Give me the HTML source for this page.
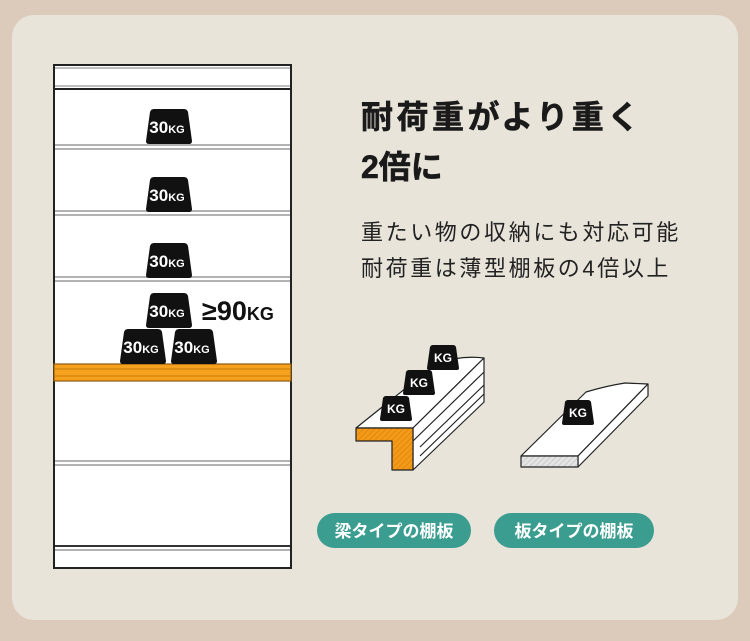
<!DOCTYPE html>
<html><head><meta charset="utf-8"><style>
html,body{margin:0;padding:0;background:#dccbbb;}
svg{display:block}
text{font-family:"Liberation Sans","Noto Sans CJK JP",sans-serif;}
</style></head><body>
<svg width="750" height="641" viewBox="0 0 750 641" xmlns="http://www.w3.org/2000/svg">
<defs>
<pattern id="ho" width="4" height="4" patternUnits="userSpaceOnUse" patternTransform="rotate(45)"><rect width="4" height="4" fill="#f39a1a"/><line x1="0" y1="0" x2="0" y2="4" stroke="#d97e00" stroke-width="1.2"/></pattern>
<pattern id="hg" width="4" height="4" patternUnits="userSpaceOnUse" patternTransform="rotate(45)"><rect width="4" height="4" fill="#e4e4e4"/><line x1="0" y1="0" x2="0" y2="4" stroke="#bbb" stroke-width="1.2"/></pattern>
<g id="w"><path d="M-15,-17 H15 Q18,-17 19,-14 L23,15 Q23,18 20,18 H-20 Q-23,18 -23,15 L-19,-14 Q-18,-17 -15,-17Z" fill="#111"/><text x="-2" y="7" text-anchor="middle" fill="#fff" font-weight="bold" font-size="17">30<tspan font-size="11">KG</tspan></text></g>
<g id="k"><path d="M-10,-12 H10 Q12,-12 13,-10 L16,11 Q16,13 14,13 H-14 Q-16,13 -16,11 L-13,-10 Q-12,-12 -10,-12Z" fill="#111"/><text x="0" y="5" text-anchor="middle" fill="#fff" font-weight="bold" font-size="12">KG</text></g>
</defs>
<rect x="12" y="15" width="726" height="605" rx="22" fill="#e8e4da"/>
<!-- cabinet -->
<rect x="54" y="65" width="237" height="503" fill="#fff" stroke="#222" stroke-width="2"/>
<line x1="55" y1="68" x2="290" y2="68" stroke="#aaa" stroke-width="1.5"/>
<line x1="55" y1="86" x2="290" y2="86" stroke="#aaa" stroke-width="1.5"/>
<line x1="55" y1="89" x2="290" y2="89" stroke="#222" stroke-width="2"/>
<g stroke="#999" stroke-width="1.5">
<line x1="55" y1="145" x2="290" y2="145"/><line x1="55" y1="149" x2="290" y2="149"/>
<line x1="55" y1="211" x2="290" y2="211"/><line x1="55" y1="215" x2="290" y2="215"/>
<line x1="55" y1="277" x2="290" y2="277"/><line x1="55" y1="281" x2="290" y2="281"/>
<line x1="55" y1="461" x2="290" y2="461"/><line x1="55" y1="465" x2="290" y2="465"/>
<line x1="55" y1="550" x2="290" y2="550"/>
</g>
<line x1="55" y1="546" x2="290" y2="546" stroke="#333" stroke-width="2"/>
<rect x="54" y="364" width="237" height="17" fill="#f7a21f" stroke="#8a5a10" stroke-width="1.2"/>
<line x1="55" y1="369" x2="290" y2="369" stroke="#c77a0a" stroke-width="1"/>
<line x1="55" y1="376" x2="290" y2="376" stroke="#c77a0a" stroke-width="1"/>
<use href="#w" x="169" y="126"/>
<use href="#w" x="169" y="194"/>
<use href="#w" x="169" y="260"/>
<use href="#w" x="169" y="310"/>
<use href="#w" x="143" y="346"/>
<use href="#w" x="194" y="346"/>
<text x="202" y="320" font-weight="bold" font-size="27" fill="#111">≥90<tspan font-size="18">KG</tspan></text>
<!-- texts -->
<text x="361" y="128" font-weight="bold" font-size="32" fill="#1a1a1a" letter-spacing="3.5" stroke="#1a1a1a" stroke-width="0.6">耐荷重がより重く</text>
<text x="361" y="178" font-weight="bold" font-size="32" fill="#1a1a1a" stroke="#1a1a1a" stroke-width="0.6">2倍に</text>
<text x="361" y="240" font-size="22" fill="#222" letter-spacing="2.6">重たい物の収納にも対応可能</text>
<text x="361" y="276" font-size="22" fill="#222" letter-spacing="2.6">耐荷重は薄型棚板の4倍以上</text>
<!-- beam shelf -->
<g stroke="#222" stroke-width="1.2" stroke-linejoin="round">
<path d="M356,428 L436,364 Q460,355 484,358 L413,428Z" fill="#fff"/>
<path d="M413,428 L484,358 L484,402 L413,470Z" fill="#fff"/>
<line x1="413" y1="441" x2="484" y2="372"/>
<line x1="420" y1="447" x2="484" y2="385"/>
<line x1="420" y1="456" x2="484" y2="394"/>
<path d="M356,428 H413 V470 H392 V441 H356Z" fill="url(#ho)"/>
</g>
<use href="#k" x="443" y="357"/>
<use href="#k" x="419" y="382"/>
<use href="#k" x="396" y="408"/>
<!-- flat shelf -->
<g stroke="#222" stroke-width="1.2" stroke-linejoin="round">
<path d="M521,456 L586,392 Q606,386 625,383 L648,384 L578,456Z" fill="#fff"/>
<path d="M578,456 L648,384 L648,396 L578,467Z" fill="#fff"/>
<rect x="521" y="456" width="57" height="11" fill="url(#hg)"/>
</g>
<use href="#k" x="578" y="412"/>
<!-- pills -->
<rect x="317" y="513" width="154" height="35" rx="17.5" fill="#3b9d8f"/>
<text x="394" y="537" text-anchor="middle" font-weight="bold" font-size="17" fill="#fff">梁タイプの棚板</text>
<rect x="494" y="513" width="160" height="35" rx="17.5" fill="#3b9d8f"/>
<text x="574" y="537" text-anchor="middle" font-weight="bold" font-size="17" fill="#fff">板タイプの棚板</text>
</svg>
</body></html>
